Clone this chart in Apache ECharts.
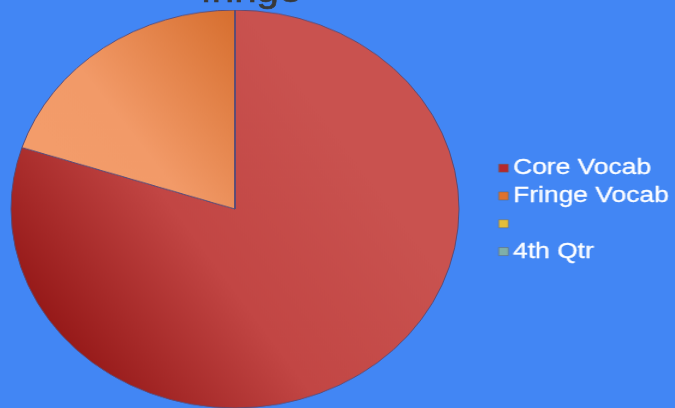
<!DOCTYPE html>
<html><head><meta charset="utf-8">
<script src="https://cdn.jsdelivr.net/npm/echarts@6/dist/echarts.min.js"></script>
<style>
html,body{margin:0;padding:0;background:#4286F4;}
#wrap{position:relative;width:675px;height:408px;overflow:hidden;background:#4286F4;}
#pie{position:absolute;left:0;top:10px;width:470px;height:448px;transform:scaleY(0.8884);transform-origin:0 0;}
#fg{position:absolute;left:0;top:0;width:675px;height:408px;}
#leg{position:absolute;left:496px;top:150px;width:150px;height:120px;transform:scaleX(1.2);transform-origin:0 0;}
</style></head>
<body><div id="wrap"><div id="pie"></div><div id="fg"></div><div id="leg"></div></div>
<script>
const titleText = 'fringe';
const categories = ['Core Vocab', 'Fringe Vocab', ' ', '4th Qtr'];
const values = [80, 20, 0, 0];
const legendColors = ['#B5282C', '#DF722D', '#E4BE3A', '#7FAFA9'];

const sliceStyles = [
  {color: {type:'linear', x:0, y:0.85, x2:0.75, y2:0.35, colorStops:[{offset:0,color:'#8A0D0D'},{offset:0.55,color:'#C24644'},{offset:1,color:'#C9524F'}]}},
  {color: {type:'linear', x:1, y:0, x2:0.1, y2:0.6, colorStops:[{offset:0,color:'#D66E2E'},{offset:0.7,color:'#F29A68'},{offset:1,color:'#F39C6A'}]}},
  {color: legendColors[2]},
  {color: legendColors[3]}
];

const pie = echarts.init(document.getElementById('pie'), null, {renderer:'canvas'});
pie.setOption({
  animation:false,
  series:[{
    type:'pie', center:[235,224], radius:[0,224], startAngle:90, clockwise:true,
    label:{show:false}, labelLine:{show:false}, silent:true,
    data: categories.map((n,i)=>({name:n, value:values[i], itemStyle:Object.assign({borderColor:'#5A4C78',borderWidth:1}, sliceStyles[i])}))
  }]
});

const fg = echarts.init(document.getElementById('fg'), null, {renderer:'canvas'});
fg.setOption({
  animation:false,
  graphic:[{type:'text', x:251, y:10, scaleX:1.15, style:{text:titleText, x:0, y:0, align:'center', verticalAlign:'bottom', font:'35px "Liberation Sans", Arial, sans-serif', fill:'#383838', stroke:'#383838', lineWidth:0.6}}]
});

const leg = echarts.init(document.getElementById('leg'), null, {renderer:'canvas'});
leg.setOption({
  animation:false,
  legend:{
    orient:'vertical', left:2, top:7, padding:0, itemWidth:8, itemHeight:8, itemGap:5.5,
    icon:'rect', selectedMode:false,
    textStyle:{color:'#FFFFFF', fontSize:22, lineHeight:22, fontFamily:'"Liberation Sans", Arial, sans-serif', padding:[0,0,0,-1], textBorderColor:'#FFFFFF', textBorderWidth:0.3},
    data: categories.map((n,i)=>({name:n, itemStyle:{color:legendColors[i], borderColor:'#666', borderWidth:0.5}}))
  },
  series:[{type:'pie', radius:[0,0], center:[-100,-100], silent:true, label:{show:false},
    data: categories.map((n,i)=>({name:n, value:1, itemStyle:{color:legendColors[i]}}))}]
});
</script></body></html>
